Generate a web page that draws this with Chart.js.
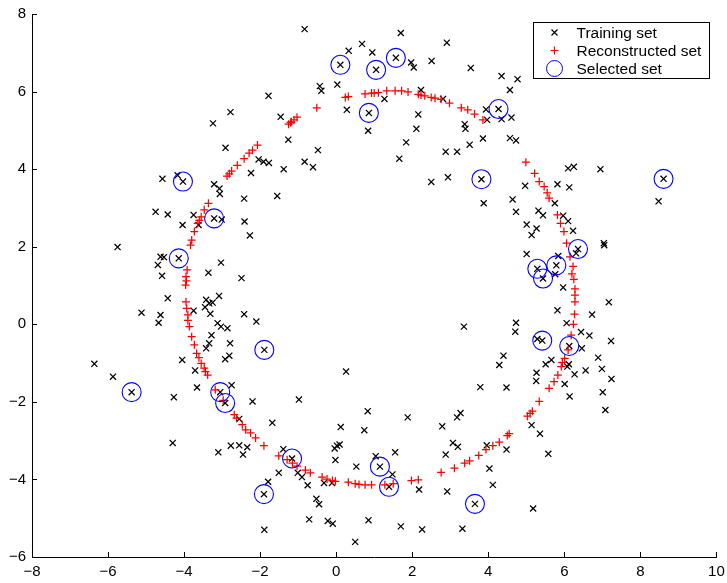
<!DOCTYPE html>
<html>
<head>
<meta charset="utf-8">
<script src="https://cdn.jsdelivr.net/npm/chart.js@4.4.0/dist/chart.umd.min.js"></script>
<style>
  html, body { margin: 0; padding: 0; background: #fff; }
</style>
</head>
<body>
<canvas id="scatterChart" width="727" height="583"></canvas>
<script>
const xTicks = [-8, -6, -4, -2, 0, 2, 4, 6, 8, 10];
const yTicks = [-6, -4, -2, 0, 2, 4, 6, 8];
const seriesNames = ["Training set", "Reconstructed set", "Selected set"];

// Training set (black x)
const trainX = [
  -4.57, -4.17, -4.03, -3.24, -2.78, -2.91, -3.21, -3.07, -3.06, -2.42, -2.24, -2.04, -1.91, -1.77, -1.55,
  -0.83, 1.70, 2.91, 0.68, 0.33, 0.95, 0.11, 1.05, 1.57, 1.97, 2.04, 2.51, 3.54, -0.43, -0.39, 0.03, -1.78,
  0.28, 0.86, 0.84, 1.27, 2.23, 2.16, 2.11, 1.84, 1.66, -1.46, -1.26, -0.48, -0.83, -0.61, -1.38, 2.88, 3.18,
  3.51, 3.86, 3.38, 3.40, 2.50, 2.94, 3.82, 3.94, 2.81, 4.35, 4.77, 4.57, 4.27, 4.61, 4.35, 3.97, 4.57, 4.73,
  6.10, 6.25, 6.95, 4.97, 5.82, 6.13, 8.61, 8.48, 4.64, -5.75, -4.75, -4.43, -4.04, -3.75, -3.21, -3.01, -2.41,
  -4.14, -4.69, -4.62, -4.53, -4.58, -3.03, -3.36, -2.49, -4.43, -5.12, -4.62, -4.67, -3.42, -3.34, -3.45,
  -3.25, -3.08, -3.31, -3.75, -2.42, -3.12, -3.03, -2.86, -3.28, -3.34, -3.42, -2.79, -2.81, -2.92, -4.05,
  -3.71, -6.36, -5.87, -3.66, -2.75, -2.27, -3.62, 3.88, -2.10, -1.89, 0.26, 3.36, 3.79, 4.73, 5.32, 5.44,
  5.01, 5.27, 5.14, 5.75, 5.97, 6.10, 6.23, 7.04, 7.05, 6.36, 6.31, 5.01, 5.84, 5.79, 5.29, 5.44, 5.76, 5.97,
  7.17, 5.82, 6.73, 4.73, 4.71, 6.06, 6.44, 6.66, 5.29, 5.42, 6.13, 7.23, 6.46, 4.40, 4.29, 6.89, 5.66, 5.51,
  6.08, 6.12, 6.56, 6.27, 6.99, 5.27, 5.26, 7.24, 6.01, 4.48, -5.38, -4.27, -3.05, -2.92, -4.30, -3.10, -2.77,
  -2.55, -2.34, -2.45, -2.55, -2.20, -0.98, -1.68, 0.83, 1.88, 0.12, 0.74, 2.79, 3.18, 3.27, 3.07, 3.20, 0.02,
  0.09, -0.04, -0.02, -1.39, -1.16, -1.51, -1.01, -0.90, -0.75, -1.79, -1.90, 1.04, 1.55, 1.15, 0.53, 1.48,
  1.39, -0.32, -0.11, 2.18, 2.88, 2.92, 3.65, -0.52, -0.45, -0.71, -0.22, -0.09, 0.85, 1.70, 2.26, 3.32,
  -1.89, 0.50, 6.14, 7.01, 7.08, 5.14, 5.36, 5.58, 3.96, 4.48, 4.03, 4.12, 5.18
];
const trainY = [
  3.75, 3.84, 3.68, 5.18, 5.47, 4.55, 3.61, 3.50, 3.36, 3.24, 3.90, 4.25, 4.19, 4.16, 3.31,
  7.61, 7.51, 7.26, 7.23, 7.05, 7.01, 6.69, 6.56, 6.87, 6.75, 6.62, 6.79, 6.61, 6.14, 6.02, 6.18, 5.89,
  5.53, 5.45, 4.99, 5.81, 6.04, 5.41, 5.04, 4.69, 4.27, 5.35, 4.76, 4.49, 4.19, 4.05, 4.00, 4.45, 4.45,
  4.63, 4.79, 5.16, 5.04, 3.67, 3.79, 3.74, 5.54, 5.81, 6.40, 6.32, 6.04, 5.55, 5.33, 5.29, 5.27, 4.80, 4.74,
  4.02, 4.06, 4.00, 3.57, 3.61, 3.53, 3.75, 3.17, 3.22, 1.99, 2.90, 2.83, 2.56, 2.82, 2.73, 2.70, 2.65,
  1.70, 1.53, 1.74, 1.73, 1.25, 1.59, 1.33, 1.19, 0.67, 0.30, 0.24, 0.04, 0.63, 0.54, 0.44,
  0.56, 0.73, 0.27, 0.35, 0.26, 0.03, -0.06, -0.10, -0.28, -0.49, -0.62, -0.49, -0.81, -0.90, -0.92,
  -1.19, -1.02, -1.35, -1.63, -1.57, 2.29, 2.56, 3.12, 0.07, -0.66, -1.22, -0.06, -1.62, 2.90, 2.93, 2.81,
  2.57, 2.47, 2.30, 3.12, 2.80, 2.66, 2.41, 2.09, 2.04, 1.94, 1.83, 1.81, 1.76, 1.52, 1.43, 1.18, 1.29, 0.95,
  0.57, 0.36, 0.25, 0.04, -0.19, 0.03, -0.20, -0.29, -0.38, -0.42, -0.56, -0.43, -0.62, -0.81, -1.05, -0.86, -0.92, -1.03,
  -1.09, -1.03, -1.19, -1.29, -1.15, -1.25, -1.46, -1.41, -1.54, -1.63, -1.75, -1.88, -1.75, -2.03, -3.06, -3.30, -3.13,
  -3.12, -3.17, -3.36, -2.44, -1.99, -1.94, -2.54, -2.24, -2.40, -2.65, -2.73, -2.63, -2.40, -2.29, -3.06, -3.16, -3.13,
  -3.10, -3.20, -3.50, -3.22, -3.46, -3.83, -3.83, -3.94, -4.15, -4.06, -4.38, -3.40, -3.30, -3.67, -3.67, -3.87,
  -4.19, -4.09, -4.09, -4.26, -3.36, -4.31, -4.63, -4.50, -4.64, -5.03, -5.07, -5.14, -5.05, -5.21, -5.29, -5.27,
  -5.30, -5.61, -1.86, -1.75, -2.21, -2.60, -2.82, -3.34, -3.12, -3.23, -3.72, -4.14, -4.75
];

// Reconstructed set (red +)
const reconX = [
  -3.36, -3.47, -3.55, -3.64, -3.73, -3.80, -3.83, -3.60,
  -2.87, -2.81, -2.75, -2.60, -2.42, -2.29, -2.20, -2.07,
  -1.25, -1.20, -1.18, -1.11, -1.03, -0.51,
  0.24, 0.32, 0.76, 0.93, 1.00, 1.11, 1.33, 1.55, 1.72, 1.89, 2.16, 2.23, 2.33, 2.50, 2.60, 2.76, 2.98, 3.29, 3.46, 3.64, 3.86,
  4.99, 5.22, 5.34, 5.47, 5.55, 5.60, 5.82, 5.90, 5.99, 6.06, 6.15, 6.20, 6.23, 6.25, 6.28, 6.28, 6.28, 6.27, 6.24,
  6.18, 6.10, 6.01, 5.95, 5.92, 5.83, 5.73, 5.60, 5.34, 5.16, 5.10, 5.03, 4.55, 4.50, 4.29, 4.12, 3.94, 3.75,
  3.51, 3.38, 3.11, 2.76, 2.16, 1.98, 1.50, 1.28, 0.93, 0.76, 0.60, 0.50, 0.32, -0.02, -0.10, -0.24, -0.37, -0.68, -0.81,
  -1.03, -1.15, -1.29, -1.51, -1.90, -2.12, -2.25, -2.38, -2.47, -2.62, -2.68, -2.97, -3.18,
  -3.38, -3.44, -3.47, -3.55, -3.61, -3.67, -3.73, -3.80, -3.86, -3.90, -3.90, -3.93, -3.95, -3.96, -3.94, -3.95, -3.92
];
const reconY = [
  3.12, 2.95, 2.77, 2.60, 2.39, 2.17, 2.04, 2.68,
  3.82, 3.88, 3.95, 4.10, 4.27, 4.41, 4.49, 4.62,
  5.16, 5.20, 5.22, 5.27, 5.34, 5.58,
  5.85, 5.87, 5.94, 5.96, 5.96, 5.97, 6.02, 6.02, 6.02, 5.99, 5.93, 5.91, 5.89, 5.85, 5.83, 5.80, 5.70, 5.58, 5.53, 5.42, 5.27,
  4.18, 3.89, 3.68, 3.55, 3.39, 3.25, 2.82, 2.60, 2.39, 2.09, 1.74, 1.30, 1.49, 1.16, 0.91, 0.75, 0.58, 0.26, 0.00,
  -0.28, -0.66, -0.88, -0.98, -1.09, -1.31, -1.48, -1.65, -1.99, -2.24, -2.30, -2.37, -2.82, -2.87, -3.04, -3.13, -3.23, -3.38,
  -3.52, -3.58, -3.71, -3.82, -4.01, -4.03, -4.11, -4.14, -4.14, -4.14, -4.13, -4.11, -4.07, -4.05, -4.03, -3.99, -3.94, -3.83, -3.76,
  -3.66, -3.58, -3.49, -3.39, -3.13, -2.93, -2.80, -2.72, -2.59, -2.42, -2.33, -1.96, -1.69,
  -1.31, -1.22, -1.13, -1.01, -0.86, -0.75, -0.53, -0.32, -0.06, 0.10, 0.24, 0.41, 0.58, 1.01, 1.12, 1.23, 1.40
];

// Selected set (blue circles)
const selX = [-4.03, 0.11, 1.05, 1.57, 0.86, 3.82, 4.27, 8.61, -3.21, -4.14, -1.89, 6.36, 5.79,
  5.29, 5.44, 5.42, 6.13, -5.38, -3.05, -2.92, -1.16, -1.90, 1.15, 1.39, 3.65];
const selY = [3.68, 6.69, 6.56, 6.87, 5.45, 3.74, 5.55, 3.75, 2.73, 1.70, -0.66, 1.94, 1.52,
  1.43, 1.18, -0.42, -0.56, -1.75, -1.75, -2.03, -3.46, -4.38, -3.67, -4.19, -4.63];

const fontFamily = "'Liberation Sans', Arial, Helvetica, sans-serif";
const toPoints = (xs, ys) => xs.map((x, i) => ({ x: x, y: ys[i] }));
const fmtTick = v => (v < 0 ? "\u2212" + Math.abs(v) : String(v));

// MATLAB style ticks pointing into the plot
const inwardTicks = {
  id: "inwardTicks",
  afterDraw(chart) {
    const { ctx, chartArea, scales } = chart;
    ctx.save();
    ctx.strokeStyle = "#000";
    ctx.lineWidth = 1;
    ctx.beginPath();
    xTicks.forEach(v => {
      const px = Math.round(scales.x.getPixelForValue(v)) + 0.5;
      ctx.moveTo(px, chartArea.bottom);
      ctx.lineTo(px, chartArea.bottom - 5);
    });
    yTicks.forEach(v => {
      const py = Math.round(scales.y.getPixelForValue(v)) + 0.5;
      ctx.moveTo(chartArea.left, py);
      ctx.lineTo(chartArea.left + 5, py);
    });
    ctx.stroke();
    ctx.restore();
  }
};

// legend box in the upper right corner
const boxLegend = {
  id: "boxLegend",
  afterDraw(chart) {
    const { ctx, chartArea } = chart;
    const w = 176, h = 56;
    const left = Math.round(chartArea.right - 7 - w) + 0.5;
    const top = Math.round(chartArea.top + 8) + 0.5;
    ctx.save();
    ctx.fillStyle = "#fff";
    ctx.fillRect(left, top, w, h);
    ctx.strokeStyle = "#000";
    ctx.lineWidth = 1;
    ctx.strokeRect(left, top, w, h);

    const mx = left + 21;
    const tx = left + 43;
    const rows = [top + 10, top + 28, top + 46];
    ctx.font = "15.5px " + fontFamily;
    ctx.fillStyle = "#000";
    ctx.textBaseline = "middle";
    seriesNames.forEach((name, i) => ctx.fillText(name, tx, rows[i] + 1));

    ctx.lineWidth = 1.2;
    ctx.strokeStyle = "#000";
    ctx.beginPath();
    ctx.moveTo(mx - 3, rows[0] - 3); ctx.lineTo(mx + 3, rows[0] + 3);
    ctx.moveTo(mx + 3, rows[0] - 3); ctx.lineTo(mx - 3, rows[0] + 3);
    ctx.stroke();

    ctx.strokeStyle = "#ff0000";
    ctx.beginPath();
    ctx.moveTo(mx - 4, rows[1]); ctx.lineTo(mx + 4, rows[1]);
    ctx.moveTo(mx, rows[1] - 4); ctx.lineTo(mx, rows[1] + 4);
    ctx.stroke();

    ctx.lineWidth = 1;
    ctx.strokeStyle = "#0000ff";
    ctx.beginPath();
    ctx.arc(mx, rows[2], 8, 0, Math.PI * 2);
    ctx.stroke();
    ctx.restore();
  }
};

new Chart(document.getElementById("scatterChart"), {
  type: "scatter",
  data: {
    datasets: [
      {
        label: seriesNames[0],
        data: toPoints(trainX, trainY),
        pointStyle: "crossRot",
        pointRadius: 4.3,
        borderColor: "#000",
        backgroundColor: "rgba(0,0,0,0)",
        borderWidth: 1.25,
        order: 3
      },
      {
        label: seriesNames[1],
        data: toPoints(reconX, reconY),
        pointStyle: "cross",
        pointRadius: 4,
        borderColor: "#ff0000",
        backgroundColor: "rgba(0,0,0,0)",
        borderWidth: 1.25,
        order: 2
      },
      {
        label: seriesNames[2],
        data: toPoints(selX, selY),
        pointStyle: "circle",
        pointRadius: 9.5,
        borderColor: "#0000ff",
        backgroundColor: "rgba(0,0,0,0)",
        borderWidth: 1.1,
        order: 1
      }
    ]
  },
  options: {
    responsive: false,
    animation: false,
    events: [],
    layout: { padding: { top: 14, right: 7, left: 0, bottom: 0 } },
    plugins: {
      legend: { display: false },
      tooltip: { enabled: false }
    },
    scales: {
      x: {
        type: "linear",
        min: -8,
        max: 10,
        afterBuildTicks: s => { s.ticks = xTicks.map(v => ({ value: v })); },
        afterFit: s => { s.height = 26; s.paddingLeft = 0; s.paddingRight = 0; },
        grid: { display: true, drawOnChartArea: false, drawTicks: false },
        border: { display: true, color: "#000", width: 1 },
        ticks: {
          color: "#000",
          font: { family: fontFamily, size: 15 },
          padding: 6,
          maxRotation: 0,
          autoSkip: false,
          callback: v => fmtTick(v)
        }
      },
      y: {
        type: "linear",
        min: -6,
        max: 8,
        afterBuildTicks: s => { s.ticks = yTicks.map(v => ({ value: v })); },
        afterFit: s => { s.width = 32; s.paddingTop = 0; s.paddingBottom = 0; },
        grid: { display: true, drawOnChartArea: false, drawTicks: false },
        border: { display: true, color: "#000", width: 1 },
        ticks: {
          color: "#000",
          font: { family: fontFamily, size: 15 },
          padding: 6,
          autoSkip: false,
          callback: v => fmtTick(v)
        }
      }
    }
  },
  plugins: [inwardTicks, boxLegend]
});
</script>
</body>
</html>
